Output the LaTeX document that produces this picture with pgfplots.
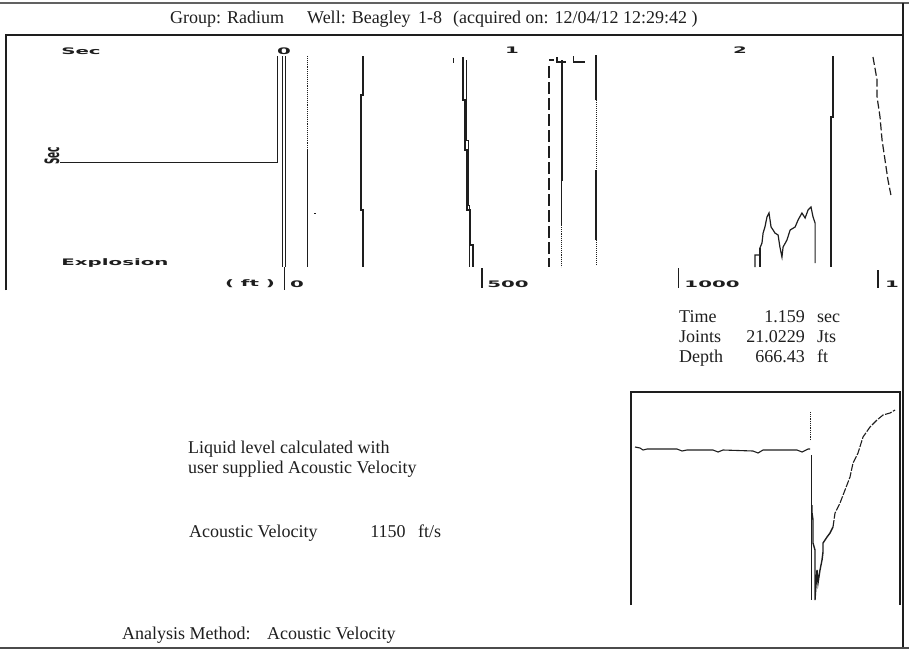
\documentclass[border=0pt]{standalone}
\usepackage{fontspec}
\setmainfont{Liberation Serif}
\newfontfamily\blocky{DejaVu Sans}
\usepackage{pgfplots}
\pgfplotsset{compat=1.18}
\definecolor{ink}{HTML}{1E1E1E}
\tikzset{
  blk/.style={font=\blocky\bfseries\fontsize{9}{9}\selectfont, xscale=2.2, inner sep=0pt, text=ink},
  txt/.style={font=\fontsize{18}{18}\selectfont, inner sep=0pt, text=ink},
}
\begin{document}
\begin{tikzpicture}
\useasboundingbox (0,0) rectangle (909pt,-653pt);
\begin{scope}[x=1pt,y=-1pt]
  % outer frame
  \draw[ink!70, line width=1.3pt] (0,3) -- (909,3);
  \draw[ink, line width=1.2pt] (903,3) -- (903,648);
  \draw[ink!80, line width=1.3pt] (0,648) -- (909,648);
  % top panel frame
  \draw[ink, line width=1.3pt] (6,290) -- (6,35) -- (903,35);
  % inset frame
  \draw[ink, line width=1.3pt] (631,605) -- (631,392) -- (900,392) -- (900,605);
  % header
  \node[txt, anchor=base west] at (170,23) {Group: Radium};
  \node[txt, anchor=base west] at (307,23) {Well: Beagley};
  \node[txt, anchor=base west] at (418,23) {1-8};
  \node[txt, anchor=base west] at (453,23) {(acquired on: 12/04/12 12:29:42 )};
  % readout
  \node[txt, anchor=base west] at (679,322) {Time};
  \node[txt, anchor=base east] at (805,322) {1.159};
  \node[txt, anchor=base west] at (817,322) {sec};
  \node[txt, anchor=base west] at (679,342) {Joints};
  \node[txt, anchor=base east] at (805,342) {21.0229};
  \node[txt, anchor=base west] at (817,342) {Jts};
  \node[txt, anchor=base west] at (679,362) {Depth};
  \node[txt, anchor=base east] at (805,362) {666.43};
  \node[txt, anchor=base west] at (817,362) {ft};
  % notes
  \node[txt, anchor=base west] at (188,453) {Liquid level calculated with};
  \node[txt, anchor=base west] at (188,473) {user supplied Acoustic Velocity};
  \node[txt, anchor=base west] at (189,537) {Acoustic Velocity};
  \node[txt, anchor=base] at (388,537) {1150};
  \node[txt, anchor=base west] at (418,537) {ft/s};
  \node[txt, anchor=base west] at (122,639) {Analysis Method:};
  \node[txt, anchor=base west] at (267,639) {Acoustic Velocity};
  % blocky labels
  \node[blk] at (81,51) {Sec};
  \node[blk, rotate=90] at (52,156) {Sec};
  \node[blk] at (115,263) {Explosion};
  \node[blk] at (250,284) {( ft )};
\end{scope}

\begin{axis}[at={(5pt,-290pt)}, anchor=south west, scale only axis,
  width=898pt, height=255pt,
  xmin=-1.2247, xmax=2.7313, ymin=35, ymax=290, y dir=reverse,
  hide axis, clip=false]
  % step from the left
  \addplot[ink, line width=0.9pt] coordinates {(-0.982,162) (-0.026,162) (-0.026,56)};
  % double line at zero
  \addplot[ink, line width=1pt] coordinates {(-0.004,56) (-0.004,267)};
  \addplot[ink, line width=1pt] coordinates {(0.013,56) (0.013,267)};
  \addplot[ink, line width=1.4pt] coordinates {(0.007,267) (0.007,290)};
  % dotted / solid line
  \addplot[ink, line width=0.9pt, densely dotted] coordinates {(0.106,56) (0.106,150)};
  \addplot[ink, line width=1pt] coordinates {(0.106,150) (0.106,267)};
  \addplot[ink, line width=0.8pt] coordinates {(0.137,213) (0.145,213)};
  % line near 0.35 s
  \addplot[ink, line width=1.3pt] coordinates {(0.352,56) (0.352,95) (0.344,95) (0.344,210) (0.352,210) (0.352,267)};
  % trace near 0.8 s
  \addplot[ink, line width=0.8pt] coordinates {(0.749,58) (0.749,63)};
  \addplot[ink, line width=1.5pt] coordinates {(0.793,57) (0.793,100) (0.802,100) (0.802,150) (0.811,150) (0.811,210) (0.824,210) (0.824,245) (0.837,245) (0.837,267)};
  \addplot[ink, line width=0.8pt] coordinates {(0.806,60) (0.806,140) (0.815,140) (0.815,205) (0.822,205) (0.822,267)};
  % liquid level markers
  \addplot[ink, line width=1.2pt, dash pattern=on 12pt off 4pt] coordinates {(1.172,66) (1.172,267)};
  \addplot[ink, line width=1.2pt] coordinates {(1.172,60) (1.195,60)};
  \addplot[ink, line width=1.8pt] coordinates {(1.207,57) (1.207,62) (1.247,62)};
  \addplot[ink, line width=1.2pt] coordinates {(1.278,56) (1.278,62) (1.330,62)};
  \addplot[ink, line width=1.1pt] coordinates {(1.229,60) (1.229,180) (1.225,180) (1.225,225)};
  \addplot[ink, line width=1.1pt, densely dotted] coordinates {(1.225,225) (1.225,267)};
  \addplot[ink, line width=1.1pt] coordinates {(1.379,55) (1.379,100)};
  \addplot[ink, line width=1pt, densely dotted] coordinates {(1.379,100) (1.379,170)};
  \addplot[ink, line width=1.1pt] coordinates {(1.379,170) (1.379,240)};
  \addplot[ink, line width=1pt, densely dotted] coordinates {(1.381,240) (1.381,265)};
  % bump near 2.1-2.35 s
  \addplot[ink, line width=1.2pt] coordinates {(2.079,267) (2.079,255) (2.101,255) (2.101,248) (2.110,243) (2.115,233) (2.123,227) (2.132,217) (2.141,213) (2.150,227) (2.159,230) (2.167,233) (2.181,235) (2.189,247) (2.198,257) (2.203,247) (2.220,240) (2.234,230) (2.256,227) (2.269,220) (2.286,213) (2.300,218) (2.313,210) (2.326,207) (2.335,217) (2.344,223) (2.344,263)};
  \addplot[ink, line width=1.2pt] coordinates {(2.101,248) (2.101,267)};
  % line near 2.42 s
  \addplot[ink, line width=1.2pt] coordinates {(2.423,56) (2.423,117) (2.414,117) (2.414,267)};
  % decaying dashed trace
  \addplot[ink, line width=1.2pt, dash pattern=on 8pt off 3pt] coordinates {(2.599,57) (2.617,80) (2.617,97) (2.630,117) (2.639,140) (2.652,160) (2.665,180) (2.678,195)};
  % depth bars
  \addplot[ink, line width=1.4pt] coordinates {(0.877,268) (0.877,288)};
  \addplot[ink, line width=1pt] coordinates {(1.744,268) (1.744,288)};
  \addplot[ink, line width=1.6pt] coordinates {(2.621,270) (2.621,288)};
  % time labels
  \node[blk] at (axis cs:0.004,51) {0};
  \node[blk] at (axis cs:1.009,50) {1};
  \node[blk] at (axis cs:2.013,50) {2};
  % depth labels
  \node[blk] at (axis cs:0.062,284) {0};
  \node[blk] at (axis cs:0.991,284) {500};
  \node[blk] at (axis cs:1.890,284) {1000};
  \node[blk] at (axis cs:2.683,284) {1};
\end{axis}

\begin{axis}[at={(631pt,-605pt)}, anchor=south west, scale only axis,
  width=269pt, height=213pt,
  xmin=0, xmax=269, ymin=0, ymax=213, hide axis, clip=false]
  \addplot[ink, line width=1.1pt] coordinates {(4,158) (9,157) (12,155) (16,156) (36,156) (46,156) (51,154) (56,155) (82,155) (87,153) (92,155) (122,154) (127,152) (132,155) (166,155) (171,153) (177,156) (179,156)};
  \addplot[ink, line width=0.8pt] coordinates {(180,150) (180,5)};
  \addplot[ink, line width=0.8pt, densely dotted] coordinates {(179,165) (179,193)};
  \addplot[ink, line width=1.4pt] coordinates {(181,100) (181,92) (182,85) (182,62) (184,55) (184,5) (186,35) (187,22) (189,35) (191,45) (192,53) (192,62) (196,68) (199,72) (202,78)};
  \addplot[ink, line width=1.1pt, dash pattern=on 7pt off 1.5pt] coordinates {(202,78) (204,92) (209,102) (214,115) (219,128) (222,142) (227,152) (232,168) (239,178) (246,185) (252,190) (259,192) (264,195)};
\end{axis}
\end{tikzpicture}
\end{document}
